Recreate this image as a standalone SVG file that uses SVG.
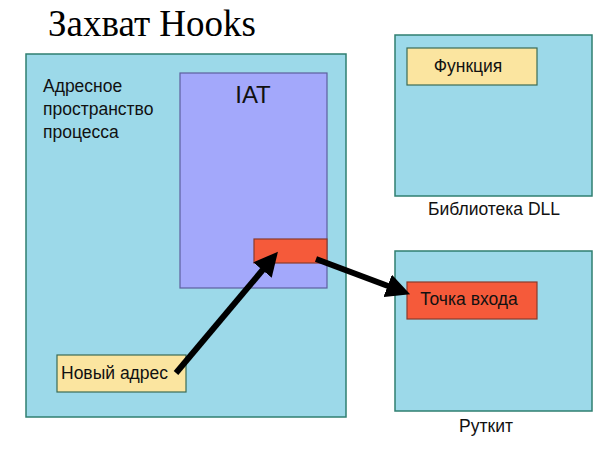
<svg xmlns="http://www.w3.org/2000/svg" width="600" height="449" viewBox="0 0 600 449">
<defs>
<style>
.box{fill:#9cd9e9;stroke:#2f7f70;stroke-width:1.5}
.iat{fill:#a3a8fb;stroke:#5d5f9e;stroke-width:1.2}
.red{fill:#f55a3a;stroke:#8a3b2c;stroke-width:1.2}
.yel{fill:#fbe5a0;stroke:#3b6b55;stroke-width:1.2}
.t{font-family:"Liberation Sans","DejaVu Sans",sans-serif;font-size:17.5px;fill:#111}
.conn{stroke:#000;stroke-width:6;fill:none;marker-end:url(#ah)}
</style>
<marker id="ah" markerWidth="4" markerHeight="4" refX="2.2" refY="2" orient="auto" markerUnits="strokeWidth">
<path d="M0,0 L4,2 L0,4 z" fill="#000"/>
</marker>
</defs>
<rect width="600" height="449" fill="#fff"/>
<text x="48" y="36" font-family="'Liberation Serif','DejaVu Serif',serif" font-size="37" fill="#000">Захват Hooks</text>
<g id="process">
<rect class="box" x="26" y="54" width="320" height="363"/>
<text class="t" x="43" y="92">Адресное</text>
<text class="t" x="43" y="115">пространство</text>
<text class="t" x="43" y="138">процесса</text>
</g>
<g id="iat">
<rect class="iat" x="180" y="73" width="147" height="215"/>
<text x="253" y="103" text-anchor="middle" font-family="'Liberation Sans','DejaVu Sans',sans-serif" font-size="24" fill="#111">IAT</text>
</g>
<g id="iat-entry">
<rect class="red" x="254" y="239" width="73" height="24"/>
</g>
<g id="new-address">
<rect class="yel" x="57" y="355" width="129" height="37"/>
<text class="t" x="61" y="379">Новый адрес</text>
</g>
<g id="dll">
<rect class="box" x="395" y="35" width="197" height="161"/>
<text class="t" x="494" y="215" text-anchor="middle">Библиотека DLL</text>
</g>
<g id="function">
<rect class="yel" x="407" y="48" width="130" height="37"/>
<text class="t" x="468" y="72" text-anchor="middle">Функция</text>
</g>
<g id="rootkit">
<rect class="box" x="395" y="251" width="197" height="160"/>
<text class="t" x="486" y="432" text-anchor="middle">Руткит</text>
</g>
<g id="entry-point">
<rect class="red" x="407" y="282" width="130" height="37"/>
<text class="t" x="469" y="305" text-anchor="middle">Точка входа</text>
</g>
<g id="connectors">
<line class="conn" x1="176" y1="373" x2="271" y2="260"/>
<line class="conn" x1="316" y1="259" x2="400" y2="290.5"/>
</g>
</svg>
